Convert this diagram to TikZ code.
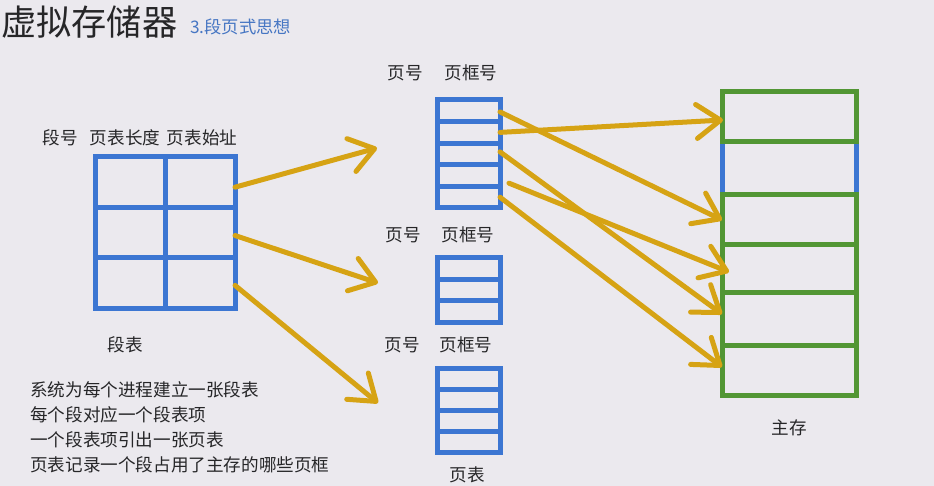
\documentclass[tikz,border=0pt]{standalone}
\usepackage{fontspec}
\setmainfont{Noto Sans CJK SC}
\usetikzlibrary{arrows.meta,calc}
\definecolor{bg}{RGB}{235,233,238}
\definecolor{tblue}{RGB}{60,118,210}
\definecolor{subblue}{RGB}{70,118,195}
\definecolor{tgold}{RGB}{214,163,20}
\definecolor{tgreen}{RGB}{82,150,52}
\definecolor{ink}{RGB}{38,38,40}
\tikzset{
  tbl/.style={draw=tblue, line width=5pt, inner sep=0pt, outer sep=0pt, anchor=north west, minimum width=63pt},
  gridline/.style={draw=tblue, line width=5pt},
  frame/.style={draw=tgreen, line width=5pt, inner sep=0pt, outer sep=0pt, anchor=north west, minimum width=134pt},
  link/.style={draw=tgold, line width=5pt, line cap=round, -{Straight Barb[length=24pt,width=34pt,round]}},
  lbl/.style={text=ink, font=\fontsize{17.6}{17.6}\selectfont, inner sep=0pt},
}
\begin{document}
\begin{tikzpicture}[x=1pt,y=-1pt]
\fill[bg] (0,0) rectangle (934,486);
\useasboundingbox (0,0) rectangle (934,486);

% title
\node[anchor=west, inner sep=0pt, text=ink, font=\fontsize{35.2}{35.2}\selectfont] (title) at (1,22) {虚拟存储器};
\node[anchor=west, inner sep=0pt, text=subblue, font=\fontsize{17.3}{17.3}\selectfont] (sub) at (190,27) {3.段页式思想};

% segment table
\node[lbl] (h1) at (60,138) {段号};
\node[lbl] (h2) at (125,138) {页表长度};
\node[lbl] (h3) at (202,138) {页表始址};
\node[tbl, minimum width=140pt, minimum height=151pt] (st) at (95,157) {};
\draw[gridline] (st.north) -- (st.south);
\draw[gridline] ($(st.north west)!1/3!(st.south west)$) -- ($(st.north east)!1/3!(st.south east)$);
\draw[gridline] ($(st.north west)!2/3!(st.south west)$) -- ($(st.north east)!2/3!(st.south east)$);
\node[lbl] (stl) at (125,345) {段表};

% page tables
\node[lbl] (p1a) at (405,73) {页号};
\node[lbl] (p1b) at (471,73) {页框号};
\node[tbl, minimum height=108pt] (pt1) at (437,100) {};
\foreach \i in {1,...,4}
  \draw[gridline] ($(pt1.north west)!\i/5!(pt1.south west)$) -- ($(pt1.north east)!\i/5!(pt1.south east)$);

\node[lbl] (p2a) at (403,235) {页号};
\node[lbl] (p2b) at (468,235) {页框号};
\node[tbl, minimum height=64pt] (pt2) at (437,258) {};
\foreach \i in {1,2}
  \draw[gridline] ($(pt2.north west)!\i/3!(pt2.south west)$) -- ($(pt2.north east)!\i/3!(pt2.south east)$);

\node[lbl] (p3a) at (402,345) {页号};
\node[lbl] (p3b) at (466,345) {页框号};
\node[tbl, minimum height=84pt] (pt3) at (437,368) {};
\foreach \i in {1,2,3}
  \draw[gridline] ($(pt3.north west)!\i/4!(pt3.south west)$) -- ($(pt3.north east)!\i/4!(pt3.south east)$);
\node[lbl] (ptl) at (467,475) {页表};

% main memory
\node[tbl, minimum width=134pt, minimum height=303pt] (mm) at (722,92) {};
\node[frame, minimum height=50pt] (f1) at (722,92) {};
\node[frame, minimum height=50pt] (f2) at (722,195) {};
\node[frame, minimum height=48pt] (f3) at (722,245) {};
\node[frame, minimum height=52pt] (f4) at (722,293) {};
\node[frame, minimum height=50pt] (f5) at (722,345) {};
\node[lbl] (mml) at (789,428) {主存};

% connector end points
\coordinate (s1) at ($(st.north east)!0.2!(st.south east)$);
\coordinate (s2) at ($(st.north east)!0.52!(st.south east)$);
\coordinate (s3) at ($(st.north east)!0.85!(st.south east)$);
\coordinate (t1) at (377,148);
\coordinate (t2) at (378,283);
\coordinate (t3) at (378,403);
\draw[link] (s1) -- (t1);
\draw[link] (s2) -- (t2);
\draw[link] (s3) -- (t3);

\coordinate (r1) at ($(pt1.north east)!0.11!(pt1.south east)$);
\coordinate (r2) at ($(pt1.north east)!0.30!(pt1.south east)$);
\coordinate (r3) at ($(pt1.north east)!0.48!(pt1.south east)$);
\coordinate (r4) at ($(pt1.north east)!0.77!(pt1.south east)+(9,0)$);
\coordinate (r5) at ($(pt1.north east)!0.90!(pt1.south east)$);
\draw[link] (r1) -- (f2.west);
\draw[link] (r2) -- ($(f1.west)+(1,3)$);
\draw[link] (r3) -- ($(f4.west)+(0,-5)$);
\draw[link] (r4) -- ($(f3.west)+(7,3)$);
\draw[link] (r5) -- ($(f5.west)+(0,-3)$);

% notes
\node[lbl, anchor=west] (n1) at (30,390) {系统为每个进程建立一张段表};
\node[lbl, anchor=west] (n2) at (30,415) {每个段对应一个段表项};
\node[lbl, anchor=west] (n3) at (30,440) {一个段表项引出一张页表};
\node[lbl, anchor=west] (n4) at (30,465) {页表记录一个段占用了主存的哪些页框};
\end{tikzpicture}
\end{document}
